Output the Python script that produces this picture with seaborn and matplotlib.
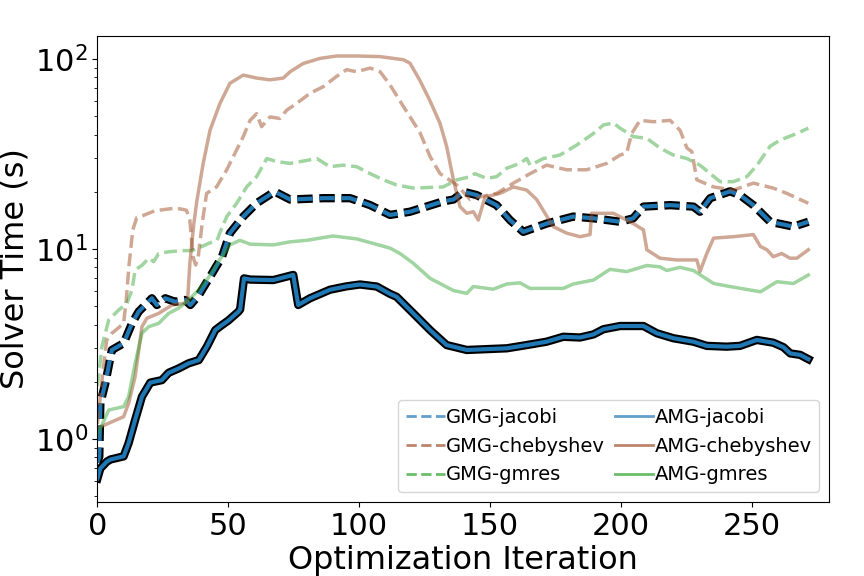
import matplotlib
matplotlib.use("Agg")
import matplotlib.pyplot as plt
import matplotlib.patheffects as pe
from matplotlib.lines import Line2D
import seaborn as sns
import pandas as pd

# ---------------- data ----------------
x_amg_jacobi = [0, 1.1, 3.6, 5, 10, 11.9, 14.4, 17, 20.2, 24.6, 27.2, 31, 34.8, 38.7, 41.8, 45,
                47.6, 50, 53.8, 54.5, 56, 58.3, 67.2, 74.8, 76.7, 81.2, 88.8, 95, 100.3, 106.7,
                111.8, 114.3, 120.7, 127.1, 133.4, 141.1, 148.7, 156.4, 164, 171.6, 178, 184.4,
                189.5, 193.3, 199.7, 208.6, 213.7, 220, 227.7, 232.8, 240.4, 245.5, 251.9, 258.2,
                262.1, 264.7, 268.5, 271.6]
amg_jacobi = [0.62, 0.70, 0.76, 0.78, 0.81, 0.95, 1.26, 1.67, 1.98, 2.04, 2.23, 2.35, 2.5, 2.6,
              3.06, 3.74, 3.98, 4.2, 4.67, 4.8, 7.0, 6.9, 6.86, 7.3, 5.07, 5.5, 6.1, 6.35, 6.5,
              6.34, 5.8, 5.6, 4.58, 3.74, 3.12, 2.94, 2.97, 3.0, 3.12, 3.25, 3.45, 3.42, 3.55,
              3.78, 3.93, 3.93, 3.6, 3.39, 3.25, 3.09, 3.06, 3.09, 3.32, 3.21, 3.04, 2.82, 2.77,
              2.63]

x_gmg_jacobi = [0, 0.7, 1.1, 3, 5.5, 10, 13.2, 15.7, 20.8, 22.7, 25.9, 29.7, 33.5, 35.5, 38.7,
                43.8, 47.6, 50.6, 55.7, 60.8, 66.6, 67.8, 73.6, 86.3, 96.5, 104.2, 111.8, 119.4,
                132.1, 136, 139.8, 144.9, 152.5, 157.6, 162.7, 171.6, 181.8, 189.5, 199.7, 204.7,
                208.6, 218.8, 227.7, 230.2, 234.1, 241.7, 245.5, 250.6, 257, 265.9, 271.6]
gmg_jacobi = [0.75, 0.81, 1.54, 1.96, 2.94, 3.19, 4.06, 4.67, 5.5, 5.07, 5.5, 5.27, 5.39, 5.07,
              5.71, 7.44, 9.1, 12.1, 14.8, 17.4, 19.6, 20.0, 18.2, 18.5, 18.5, 17.0, 15.1, 15.7,
              17.8, 18.2, 20.0, 19.2, 17.0, 14.2, 12.3, 13.6, 14.8, 14.5, 13.9, 14.5, 16.7, 17.0,
              16.7, 15.7, 18.5, 20.1, 19.2, 17.0, 13.9, 13.1, 13.9]

x_gmg_cheb = [0, 2, 3.5, 5.5, 8, 10, 11, 12, 13.5, 15, 18, 22, 30, 34, 35.3, 36.5, 37.5, 38.5,
              40, 41.7, 45.5, 49.4, 51.9, 55.7, 58.3, 60.8, 62.7, 65.9, 69.7, 72.3, 76.1, 81.2,
              86.3, 91.4, 95.2, 99, 104.2, 108, 111.8, 116.9, 123.2, 127.1, 130.9, 137.3, 142.4,
              146.2, 152.5, 158.9, 165.3, 171.6, 179.3, 186.9, 194.6, 199.7, 202.2, 204.1,
              207.3, 212.4, 218.8, 222.6, 225.2, 227.1, 229, 235.4, 243, 250.6, 258.2, 263.4,
              271.6]
gmg_cheb = [1.2, 2.2, 3.3, 3.6, 3.84, 4.07, 5.4, 8.05, 12.6, 14.6, 15.1, 15.9, 16.4, 16.0, 14.2,
            9.1, 8.23, 9.1, 13.6, 19.6, 21.2, 26.1, 30.6, 39.0, 47.5, 51.5, 44.0, 49.5, 48.6,
            53.7, 58.3, 65.9, 71.5, 81.0, 87.8, 85.6, 89.5, 85.6, 72.9, 56.2, 41.0, 30.6, 24.9,
            21.7, 18.2, 18.8, 19.6, 22.2, 24.9, 27.6, 26.1, 26.1, 28.2, 31.2, 32.0, 40.5, 47.5,
            46.7, 47.5, 42.1, 34.0, 32.5, 23.1, 21.2, 20.4, 22.2, 20.9, 19.6, 17.4]

x_gmg_gmres = [0, 1.7, 4.3, 8.1, 11.3, 13.2, 14.4, 17, 19.6, 21.5, 23.4, 27.2, 32.3, 36.1, 39.9,
               42.5, 45.7, 46.9, 49.4, 53.2, 57, 60.8, 64.7, 68.5, 73.6, 77.4, 83.8, 88.8, 93.9,
               99, 104.2, 109.2, 114.3, 120.7, 132.1, 137.3, 142.4, 144.2, 148.7, 152.5, 156.4,
               161.4, 164, 165.3, 170.4, 176.7, 183.1, 189.5, 193.3, 197.1, 199.7, 204.7, 209.9,
               214.9, 220, 225.2, 230.2, 234.1, 237.9, 243, 248.1, 252, 257, 260.8, 267.2, 271.6]
gmg_gmres = [1.9, 3.06, 4.23, 4.77, 5.18, 6.09, 7.76, 8.2, 8.94, 8.58, 9.46, 9.66, 9.8, 9.8,
             10.3, 10.7, 11.1, 12.3, 14.8, 17.4, 21.2, 24.0, 29.9, 28.8, 28.2, 28.8, 29.9, 27.1,
             27.6, 27.1, 24.9, 23.1, 21.7, 20.9, 21.2, 23.1, 24.0, 24.9, 23.5, 24.0, 26.6, 28.2,
             29.9, 27.6, 29.9, 31.2, 35.2, 40.5, 44.9, 46.0, 43.2, 39.0, 38.2, 34.0, 31.2, 29.9,
             27.6, 24.9, 22.6, 22.6, 24.0, 27.6, 34.7, 37.4, 40.5, 43.2]

x_amg_cheb = [0, 4.3, 10, 11.9, 14.4, 17, 18.9, 23.4, 28.5, 33.5, 34.4, 35.3, 36.8, 38, 40.4,
              43, 46.8, 50.6, 55.7, 60.8, 65.9, 71, 73.6, 78.6, 85, 91.4, 99, 108, 116.9, 119.4,
              123.2, 127.1, 130.9, 133.4, 136, 138.5, 141.1, 143.6, 145.5, 148.1, 153.8, 158.9,
              164, 167.8, 171, 174.2, 179.3, 184.4, 188.2, 188.8, 197.1, 204.7, 208.6, 209.9,
              214.9, 221.3, 229, 230.2, 232.8, 235.4, 243, 250.6, 253.3, 255.8, 258.2, 261.4,
              264.6, 267.2, 271.6]
amg_cheb = [1.14, 1.21, 1.31, 1.54, 2.13, 3.9, 4.32, 4.58, 5.07, 5.18, 5.3, 8.4, 13.5, 18.0,
            28.2, 42.1, 58.3, 74.4, 82.2, 79.3, 77.6, 79.3, 85.6, 94.6, 100.6, 103.6, 103.6,
            102.8, 99.0, 95.0, 77.0, 60.0, 45.7, 34.7, 23.1, 16.7, 15.4, 15.7, 14.2, 18.8, 19.6,
            21.2, 20.4, 18.2, 15.4, 13.1, 12.1, 11.6, 11.9, 15.4, 15.4, 13.6, 12.6, 9.9, 8.94,
            8.75, 8.75, 7.6, 9.46, 11.4, 11.6, 11.9, 10.3, 9.9, 9.1, 9.46, 8.94, 8.94, 9.9]

x_amg_gmres = [0, 4.3, 10, 11.9, 14.4, 17, 19.6, 23.4, 27.2, 31, 34.8, 38.7, 42.5, 46, 50.6,
               54.4, 58.3, 67.2, 73.6, 80, 90, 99, 111.8, 115.6, 120.7, 127.1, 136, 141.1, 143.6,
               151.2, 156.4, 161.4, 165.3, 178, 181.8, 189.5, 195.8, 202.2, 209.9, 214.9, 217.5,
               222.6, 227.7, 235.4, 241.7, 253.3, 259.6, 265.9, 271.6]
amg_gmres = [1.05, 1.42, 1.48, 1.67, 2.5, 3.6, 3.9, 4.06, 4.58, 4.88, 5.39, 6.09, 7.1, 8.5, 10.5,
             11.1, 10.6, 10.5, 10.9, 11.1, 11.7, 11.3, 10.1, 9.46, 8.4, 7.0, 6.04, 5.84, 6.34,
             6.14, 6.54, 6.63, 6.2, 6.2, 6.54, 6.86, 7.81, 7.6, 8.18, 8.05, 7.7, 8.0, 7.7, 6.58,
             6.34, 5.95, 6.72, 6.58, 7.29]

labels = ["GMG-jacobi", "GMG-chebyshev", "GMG-gmres", "AMG-jacobi", "AMG-chebyshev", "AMG-gmres"]
x_ticks = [0, 50, 100, 150, 200, 250]

# ---------------- figure ----------------
fig, ax = plt.subplots(figsize=(8.64, 5.76), dpi=100)
fig.subplots_adjust(left=0.1128, right=0.9595, top=0.9375, bottom=0.1285)

BLUE = "tab:blue"
BROWN = "sienna"
GREEN = "tab:green"
stroke = [pe.Stroke(linewidth=6, foreground="black"), pe.Normal()]

def draw(xs, ys, color, ls, lw, alpha, effects=None):
    df = pd.DataFrame({"x": xs, "y": ys})
    kw = dict(data=df, x="x", y="y", ax=ax, color=color, linestyle=ls, linewidth=lw,
              alpha=alpha, legend=False)
    if effects is not None:
        kw["path_effects"] = effects
    sns.lineplot(**kw)

draw(x_gmg_jacobi, gmg_jacobi, BLUE, "--", 3, 1.0, stroke)
draw(x_amg_jacobi, amg_jacobi, BLUE, "-", 3, 1.0, stroke)
draw(x_gmg_cheb, gmg_cheb, BROWN, "--", 2.5, 0.5)
draw(x_gmg_gmres, gmg_gmres, GREEN, "--", 2.5, 0.45)
draw(x_amg_cheb, amg_cheb, BROWN, "-", 2.5, 0.5)
draw(x_amg_gmres, amg_gmres, GREEN, "-", 2.5, 0.45)

ax.set_yscale("log")
ax.set_ylim(0.466, 132)
ax.set_xlim(0, 279.5)
ax.set_xticks(x_ticks)
ax.tick_params(axis="both", which="major", labelsize=22)
ax.set_xlabel("Optimization Iteration", fontsize=23, labelpad=3)
ax.set_ylabel("Solver Time (s)", fontsize=23, labelpad=3)

handles = [
    Line2D([], [], color=BLUE, ls="--", lw=2, alpha=0.7),
    Line2D([], [], color=BROWN, ls="--", lw=2, alpha=0.7),
    Line2D([], [], color=GREEN, ls="--", lw=2, alpha=0.7),
    Line2D([], [], color=BLUE, ls="-", lw=2, alpha=0.7),
    Line2D([], [], color=BROWN, ls="-", lw=2, alpha=0.7),
    Line2D([], [], color=GREEN, ls="-", lw=2, alpha=0.7),
]
ax.legend(handles, labels, loc="lower right", ncol=2, fontsize=14,
          handletextpad=0.05, columnspacing=0.5)

fig.savefig("out.png", dpi=100)
